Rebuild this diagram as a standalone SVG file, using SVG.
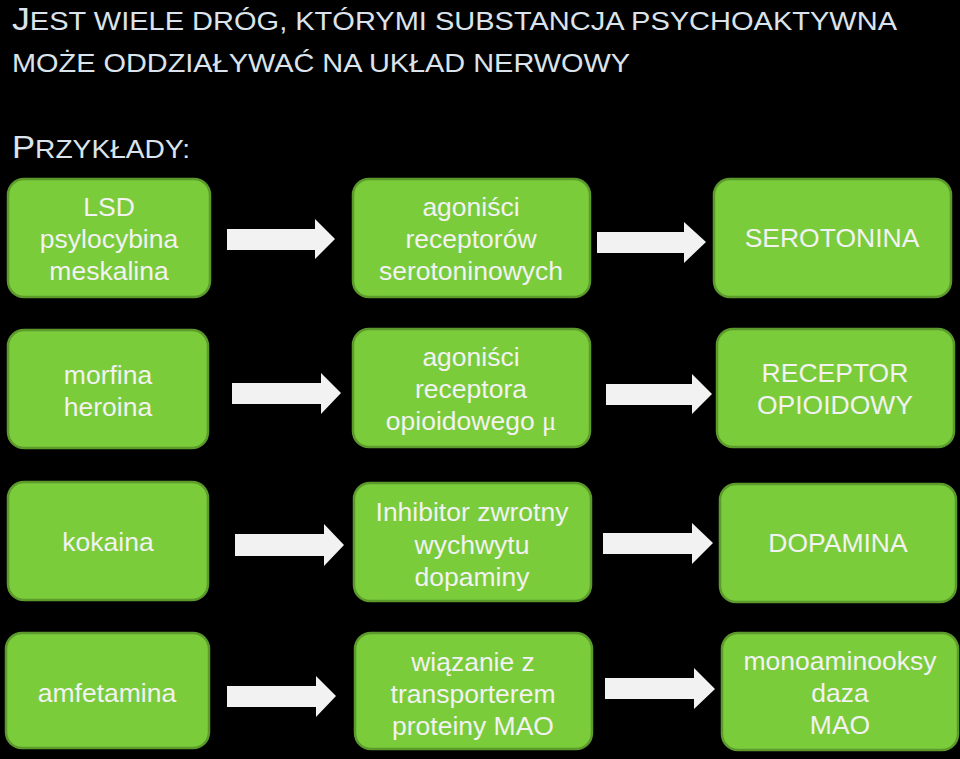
<svg xmlns="http://www.w3.org/2000/svg" width="960" height="759" viewBox="0 0 960 759">
<style>
.bg{fill:#000}
.box{fill:#7acc3b;stroke:#5c9a2c;stroke-width:2.5}
.t{font-family:"Liberation Sans",Arial,sans-serif;font-size:26.5px;fill:#f2f2f2;text-anchor:middle}
.h{font-family:"Liberation Sans",Arial,sans-serif;fill:#dbe3ec}
.arr{fill:#f2f2f2}
</style>
<rect class="bg" x="0" y="0" width="960" height="759"/>
<g id="title">
<text class="h" x="12" y="30" font-size="26" textLength="885" lengthAdjust="spacingAndGlyphs"><tspan font-size="32">J</tspan>EST WIELE DRÓG, KTÓRYMI SUBSTANCJA PSYCHOAKTYWNA</text>
<text class="h" x="12" y="72" font-size="26" textLength="618" lengthAdjust="spacingAndGlyphs">MOŻE ODDZIAŁYWAĆ NA UKŁAD NERWOWY</text>
<text class="h" x="12" y="158" font-size="26" textLength="178" lengthAdjust="spacingAndGlyphs"><tspan font-size="32">P</tspan>RZYKŁADY:</text>
</g>
<g id="n1"><rect class="box" x="8" y="179" width="202" height="118" rx="16"/>
<text class="t" x="109" y="216">LSD</text><text class="t" x="109" y="248">psylocybina</text><text class="t" x="109" y="280">meskalina</text></g>
<g id="n2"><rect class="box" x="353" y="179" width="237" height="118" rx="16"/>
<text class="t" x="471" y="216">agoniści</text><text class="t" x="471" y="248">receptorów</text><text class="t" x="471" y="280">serotoninowych</text></g>
<g id="n3"><rect class="box" x="714" y="179" width="237" height="118" rx="16"/>
<text class="t" x="832" y="247">SEROTONINA</text></g>
<g id="n4"><rect class="box" x="8" y="330" width="200" height="118" rx="16"/>
<text class="t" x="108" y="384">morfina</text><text class="t" x="108" y="416">heroina</text></g>
<g id="n5"><rect class="box" x="353" y="329" width="237" height="118" rx="16"/>
<text class="t" x="471" y="366">agoniści</text><text class="t" x="471" y="398">receptora</text><text class="t" x="471" y="430">opioidowego <tspan font-family="Liberation Serif,serif">μ</tspan></text></g>
<g id="n6"><rect class="box" x="717" y="329" width="237" height="118" rx="16"/>
<text class="t" x="835" y="382">RECEPTOR</text><text class="t" x="835" y="414">OPIOIDOWY</text></g>
<g id="n7"><rect class="box" x="8" y="482" width="200" height="118" rx="16"/>
<text class="t" x="108" y="551">kokaina</text></g>
<g id="n8"><rect class="box" x="354" y="483" width="237" height="118" rx="16"/>
<text class="t" x="472" y="521">Inhibitor zwrotny</text><text class="t" x="472" y="554">wychwytu</text><text class="t" x="472" y="586">dopaminy</text></g>
<g id="n9"><rect class="box" x="720" y="484" width="236" height="118" rx="16"/>
<text class="t" x="838" y="552">DOPAMINA</text></g>
<g id="n10"><rect class="box" x="6" y="633" width="203" height="115" rx="16"/>
<text class="t" x="107" y="702">amfetamina</text></g>
<g id="n11"><rect class="box" x="355" y="633" width="237" height="116" rx="16"/>
<text class="t" x="473" y="671">wiązanie z</text><text class="t" x="473" y="703">transporterem</text><text class="t" x="473" y="735">proteiny MAO</text></g>
<g id="n12"><rect class="box" x="722" y="633" width="236" height="117" rx="16"/>
<text class="t" x="840" y="670">monoaminooksy</text><text class="t" x="840" y="702">daza</text><text class="t" x="840" y="734">MAO</text></g>
<g id="connectors">
<polygon class="arr" points="227,229 315,229 315,219 335,239 315,259 315,250 227,250"/>
<polygon class="arr" points="597,232 684,232 684,222 706,242 684,263 684,253 597,253"/>
<polygon class="arr" points="232,383 321,383 321,373 341,393 321,414 321,404 232,404"/>
<polygon class="arr" points="606,384 692,384 692,374 712,394 692,414 692,405 606,405"/>
<polygon class="arr" points="235,534 324,534 324,524 344,545 324,566 324,556 235,556"/>
<polygon class="arr" points="603,533 692,533 692,523 713,543 692,564 692,554 603,554"/>
<polygon class="arr" points="227,686 316,686 316,676 336,696 316,717 316,707 227,707"/>
<polygon class="arr" points="605,678 694,678 694,668 715,689 694,709 694,699 605,699"/>
</g>
</svg>
